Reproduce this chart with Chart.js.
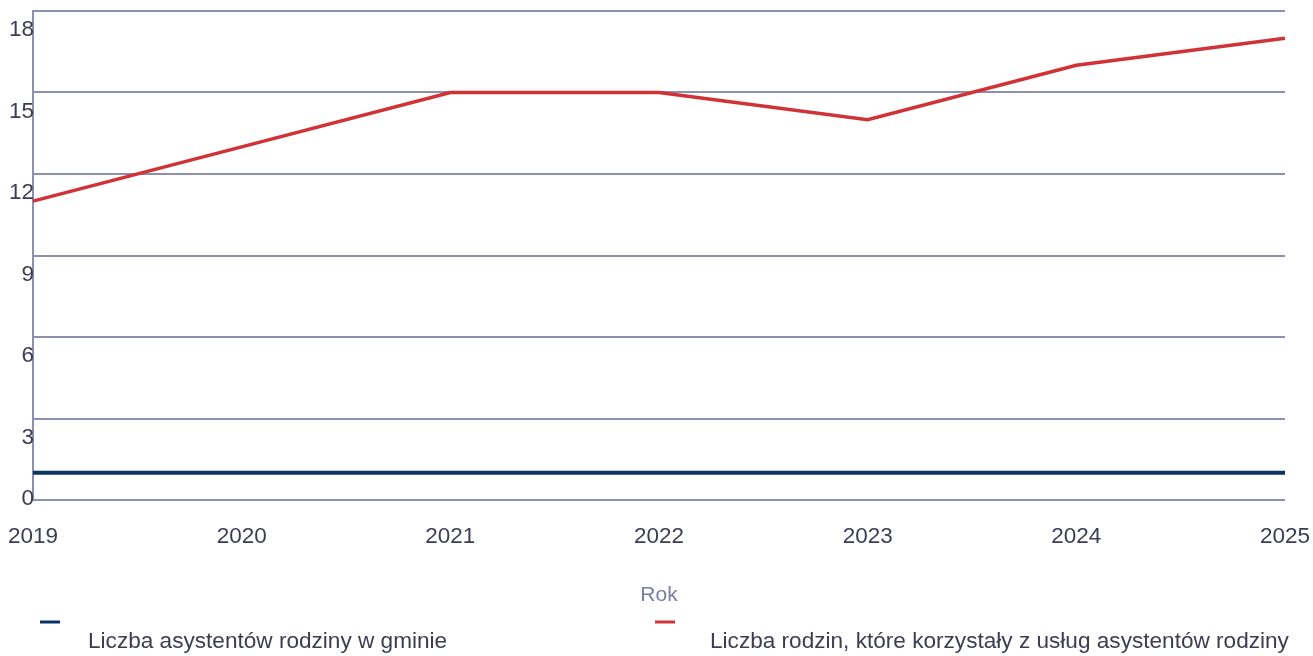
<!DOCTYPE html>
<html>
<head>
<meta charset="utf-8">
<script src="https://cdn.jsdelivr.net/npm/chart.js@4/dist/chart.umd.min.js"></script>
<style>
  html, body { margin: 0; padding: 0; background: #fff; }
  #wrap { width: 1313px; height: 656px; position: relative; }
</style>
</head>
<body>
<div id="wrap"><canvas id="chart"></canvas></div>
<script>
// --- data ---
const years = ['2019', '2020', '2021', '2022', '2023', '2024', '2025'];
const assistants = [1, 1, 1, 1, 1, 1, 1];
const families = [11, 13, 15, 15, 14, 16, 17];
const yTicks = [0, 3, 6, 9, 12, 15, 18];
const seriesNames = ['Liczba asystentów rodziny w gminie', 'Liczba rodzin, które korzystały z usług asystentów rodziny'];
const axisTitle = 'Rok';

const gridColor = '#8e8fb0';
const textColor = '#3c3d52';
const fontFamily = '"Liberation Sans", Arial, sans-serif';

// y labels sit a bit under their gridline, the bottom one is pulled up
const yLabelsPlugin = {
    id: 'yLabels',
    afterDraw(chart) {
        const ctx = chart.ctx;
        const y = chart.scales.y;
        const area = chart.chartArea;
        ctx.save();
        ctx.font = '22.5px ' + fontFamily;
        ctx.fillStyle = textColor;
        ctx.textAlign = 'right';
        ctx.textBaseline = 'middle';
        yTicks.forEach(v => {
            const py = Math.min(y.getPixelForValue(v) + 19, area.bottom - 1);
            ctx.fillText(String(v), area.left + 1, py);
        });
        ctx.restore();
    }
};

// legend: short dash on top, name below it and indented
const legendPlugin = {
    id: 'customLegend',
    afterDraw(chart) {
        const ctx = chart.ctx;
        const spots = [{ dash: 40, text: 88 }, { dash: 655, text: 710 }];
        ctx.save();
        chart.data.datasets.forEach((ds, i) => {
            const s = spots[i];
            ctx.strokeStyle = ds.borderColor;
            ctx.lineWidth = 3;
            ctx.beginPath();
            ctx.moveTo(s.dash, 622);
            ctx.lineTo(s.dash + 20, 622);
            ctx.stroke();
            ctx.font = '22.6px ' + fontFamily;
            ctx.fillStyle = textColor;
            ctx.textAlign = 'left';
            ctx.textBaseline = 'middle';
            ctx.fillText(ds.label, s.text, 642);
        });
        ctx.restore();
    }
};

new Chart(document.getElementById('chart'), {
    type: 'line',
    data: {
        labels: years,
        datasets: [
            {
                label: seriesNames[0],
                data: assistants,
                borderColor: '#0b3265',
                borderWidth: 4,
                pointRadius: 0,
                tension: 0
            },
            {
                label: seriesNames[1],
                data: families,
                borderColor: '#d03236',
                borderWidth: 3.5,
                pointRadius: 0,
                tension: 0
            }
        ]
    },
    options: {
        responsive: true,
        maintainAspectRatio: false,
        animation: false,
        layout: { padding: { left: 33, top: 11, right: 28, bottom: 48 } },
        plugins: {
            legend: { display: false },
            tooltip: { enabled: false }
        },
        scales: {
            x: {
                offset: false,
                grid: { display: false },
                border: { display: false },
                ticks: {
                    color: textColor,
                    font: { family: fontFamily, size: 22.5 },
                    padding: 15,
                    maxRotation: 0,
                    autoSkip: false
                },
                title: {
                    display: true,
                    text: axisTitle,
                    color: '#7b7da5',
                    font: { family: fontFamily, size: 21 },
                    padding: 0
                },
                afterFit: (scale) => {
                    scale.height = 108;
                    scale.paddingLeft = 0;
                    scale.paddingRight = 0;
                }
            },
            y: {
                min: 0,
                max: 18,
                grid: { color: gridColor, lineWidth: 2, drawTicks: false },
                border: { color: gridColor, width: 2 },
                ticks: { display: false, stepSize: 3 },
                afterFit: (scale) => {
                    scale.width = 0;
                    scale.paddingTop = 0;
                    scale.paddingBottom = 0;
                }
            }
        }
    },
    plugins: [yLabelsPlugin, legendPlugin]
});
</script>
</body>
</html>
